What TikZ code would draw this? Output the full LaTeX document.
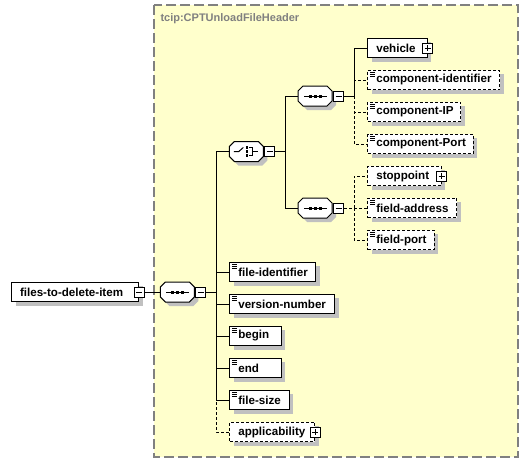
\documentclass[tikz,border=0pt]{standalone}
\usepackage{fontspec}
\setmainfont{Liberation Sans}
\usepackage{tikz}
\usetikzlibrary{positioning,shapes.misc}
\usetikzlibrary{shadows}
\definecolor{schemayellow}{RGB}{255,255,204}
\definecolor{shadowgray}{RGB}{192,192,192}
\definecolor{titlegray}{RGB}{128,128,128}
% compositor outline with its shadow, west end at (#1,#2)
\newcommand\octagon[2]{%
  \fill[shadowgray] (#1+4,#2+4) -- ++(0,-5) -- ++(5,-5) -- ++(24,0) -- ++(5,5) -- ++(0,10) -- ++(-5,5) -- ++(-24,0) -- ++(-5,-5) -- cycle;
  \draw[fill=white] (#1,#2) -- ++(0,-5) -- ++(5,-5) -- ++(24,0) -- ++(5,5) -- ++(0,10) -- ++(-5,5) -- ++(-24,0) -- ++(-5,-5) -- cycle;}

\begin{document}
\begin{tikzpicture}[
  x=1pt,y=-1pt,line width=1pt,
  font=\fontsize{11.6pt}{13pt}\selectfont\bfseries,
  shade/.style={drop shadow={shadow xshift=4pt,shadow yshift=-4pt,fill=shadowgray,opacity=1}},
  elem/.style={draw,fill=white,anchor=west,minimum width=#1,minimum height=19.5pt,
    inner xsep=8.5pt,inner ysep=0pt,shade,
    execute at begin node={\hbox to \dimexpr#1-17pt\relax\bgroup},
    execute at end node={\hss\egroup}},
  simple/.style={elem=#1,path picture={
      \foreach \k in {2,4,6}
        \draw[solid,line width=.9pt] ([shift={(2pt,-\k pt)}]path picture bounding box.north west) -- ++(5pt,0);}},
  opt/.style={dash pattern=on 3pt off 2pt},
  minusbox/.style={draw,solid,fill=white,minimum size=10pt,inner sep=0pt,
    path picture={\draw ([xshift=2pt]path picture bounding box.west) -- ([xshift=-2pt]path picture bounding box.east);}},
  plusbox/.style={minusbox,
    path picture={\draw ([xshift=2pt]path picture bounding box.west) -- ([xshift=-2pt]path picture bounding box.east);
      \draw ([yshift=-2pt]path picture bounding box.north) -- ([yshift=2pt]path picture bounding box.south);}},
  octa/.style={minimum width=34pt,minimum height=20pt,inner sep=0pt,anchor=west},
  seqbox/.style={octa,path picture={
      \draw ([xshift=-11.5pt]path picture bounding box.center) -- ([xshift=11.5pt]path picture bounding box.center);
      \foreach \k in {-5,0,5}
        \fill[black] ([shift={(\k pt-1.5pt,-1.5pt)}]path picture bounding box.center) rectangle ++(3pt,3pt);}},
  choicebox/.style={octa,path picture={
      \draw ([xshift=-13pt]path picture bounding box.center) -- ++(5pt,0pt) -- ++(4.5pt,4pt);
      \foreach \k in {-4,0,4}
        \fill[black] ([shift={(-1.25pt,\k pt-1.25pt)}]path picture bounding box.center) rectangle ++(2.5pt,2.5pt);
      \draw ([shift={(2pt,4pt)}]path picture bounding box.center) -- ++(3.4pt,0pt) -- ++(0pt,-8pt) -- ++(-3.4pt,0pt);
      \draw ([xshift=5.4pt]path picture bounding box.center) -- ++(5.3pt,0pt);}},
  title/.style={anchor=west,text=titlegray,font=\fontsize{11pt}{13pt}\selectfont\bfseries,inner sep=0pt}
  ]
  \useasboundingbox (0,0) rectangle (528,463);
  % Complex type frame
  \draw[draw=titlegray,fill=schemayellow,line width=1.2pt,dash pattern=on 10pt off 4pt] (154,5) rectangle (518,457);
  \node[title] (ttl) at (160,19) {tcip:CPTUnloadFileHeader};
  % Root element
  \node[elem=127pt] (fdi) at (11,292) {files-to-delete-item};
  \node[minusbox] (fdim) at (fdi.east) {};
  % Compositors
  \octagon{160.3}{292}
  \node[seqbox] (seqm) at (160.3,292) {};
  \node[minusbox,anchor=west] (seqmm) at (seqm.east) {};
  \octagon{229.3}{151.5}
  \node[choicebox] (choice) at (229.3,151.5) {};
  \node[minusbox,anchor=west] (choicem) at (choice.east) {};
  \octagon{298}{96}
  \node[seqbox] (seqtop) at (298,96) {};
  \node[minusbox,anchor=west] (seqtopm) at (seqtop.east) {};
  \octagon{298}{208}
  \node[seqbox] (seqlow) at (298,208) {};
  \node[minusbox,anchor=west] (seqlowm) at (seqlow.east) {};
  % Upper branch
  \node[elem=59.4pt] (vehicle) at (367.3,48) {vehicle};
  \node[plusbox] (vehiclep) at (vehicle.east) {};
  \node[simple=132pt,opt] (compid) at (367.3,80) {component-identifier};
  \node[simple=92.7pt,opt] (compip) at (367.3,112) {component-IP};
  \node[simple=105.4pt,opt] (compport) at (367.3,144) {component-Port};
  % Lower branch
  \node[elem=73.4pt,opt] (stoppoint) at (367.3,176) {stoppoint};
  \node[plusbox] (stoppointp) at (stoppoint.east) {};
  \node[simple=88.7pt,opt] (fieldaddr) at (367.3,208) {field-address};
  \node[simple=66.4pt,opt] (fieldport) at (367.3,240) {field-port};
  % Main sequence children
  \node[simple=86pt] (fileid) at (229.3,272) {file-identifier};
  \node[simple=105pt] (version) at (229.3,304) {version-number};
  \node[simple=51.4pt] (begin) at (229.3,336) {begin};
  \node[simple=51.4pt] (end) at (229.3,368) {end};
  \node[simple=59.4pt] (filesize) at (229.3,400) {file-size};
  \node[elem=84.7pt,opt] (applic) at (229.3,432) {applicability};
  \node[plusbox] (applicp) at (applic.east) {};
  % Connectors
  \draw (fdim.east) -- (seqm.west);
  \foreach \c in {choice,fileid,version,begin,end,filesize}
    \draw (seqmm.east) -- ++(10,0) |- (\c.west);
  \draw[opt] (seqmm.east) -- ++(10,0) |- (applic.west);
  \foreach \c in {seqtop,seqlow}
    \draw (choicem.east) -- ++(10,0) |- (\c.west);
  \draw (seqtopm.east) -- ++(10,0) |- (vehicle.west);
  \foreach \c in {compid,compip,compport}
    \draw[opt] (seqtopm.east) -- ++(10,0) |- (\c.west);
  \foreach \c in {stoppoint,fieldaddr,fieldport}
    \draw[opt] (seqlowm.east) -- ++(10,0) |- (\c.west);
\end{tikzpicture}
\end{document}
